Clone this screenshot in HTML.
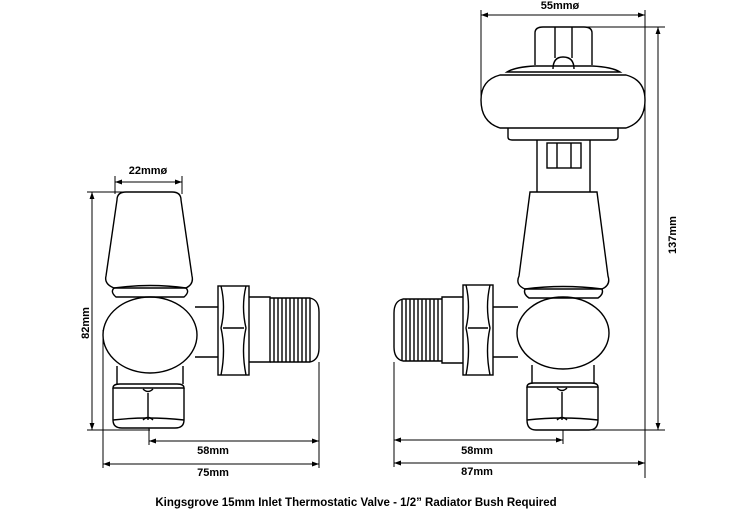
<!DOCTYPE html>
<html><head><meta charset="utf-8"><style>
html,body{margin:0;padding:0;background:#fff;}
svg{display:block;}
text{font-family:"Liberation Sans",Arial,sans-serif;font-weight:bold;fill:#000;}
</style></head><body>
<svg width="750" height="510" viewBox="0 0 750 510" xmlns="http://www.w3.org/2000/svg">
<defs>
<marker id="a" viewBox="0 0 10 10" refX="10" refY="5" markerWidth="9" markerHeight="7" orient="auto-start-reverse" markerUnits="userSpaceOnUse"><path d="M0,1.5 L10,5 L0,8.5 Z" fill="#000"/></marker>
</defs>
<g fill="none" stroke="#000" stroke-width="1.4">
<path d="M117,200 Q117,192 126,192 L172,192 Q181,192 181,200 L192,276 Q194,284 186,288 L114,288 Q104,284 106,276 Z"/>
<path d="M114,288 Q150,283 186,288 Q190,292 184,297 L116,297 Q110,292 114,288"/>
<ellipse cx="150" cy="335" rx="47" ry="38"/>
<path d="M117,366 L117,384 M183,366 L183,384"/>
<path d="M113,388 Q113,384 120,384 L177,384 Q184,384 184,388 Z"/>
<path d="M113,388 L113,420 Q113,428 122,428 L175,428 Q184,428 184,420 L184,388"/>
<path d="M113,420 Q148,416 184,420"/>
<path d="M148,393 L148,420 M143,389 Q148,394 153,389 M143,420 Q148,415 153,420"/>
<path d="M195,307 L218,307 M195,357 L218,357"/>
<rect x="218" y="286" width="31" height="89"/>
<path d="M221,286 Q226,307 221,328 Q226,350 221,375 M246,286 Q241,307 246,328 Q241,350 246,375 M223,328 L244,328"/>
<path d="M249,297 L270,297 L270,362 L249,362"/>
<path d="M270,298 L310,298 Q319,300 319,312 L319,348 Q319,360 310,362 L270,362"/>
<path d="M274,298 V362 M278,298 V362 M282,298 V362 M286,298 V362 M290,298 V362 M294,298 V362 M298,298 V362 M302,298 V362 M306,298 V362 M310,298 V362"/>

<path d="M535,65 L535,33 Q535,27 543,27 L584,27 Q592,27 592,33 L592,65"/>
<path d="M555,27 V58 M572,27 V58"/>
<path d="M553,69 Q553,57 563,57 Q574,57 574,69"/>
<path d="M507,72 Q515,67 535,66 L592,66 Q612,67 620,72 Z"/>
<path d="M500,75 L626,75 Q645,80 645,100 Q645,122 626,128 L500,128 Q481,122 481,100 Q481,80 500,75 Z"/>
<path d="M508,128 L508,137 Q508,140 512,140 L614,140 Q618,140 618,137 L618,128"/>
<path d="M537,140 L537,192 M590,140 L590,192"/>
<rect x="547" y="143" width="34" height="25"/>
<path d="M557,143 V168 M571,143 V168"/>
<path d="M530,192 L597,192 L608,276 Q611,285 602,289 L525,289 Q515,285 519,276 Z"/>
<path d="M525,289 Q563,284 602,289 Q604,294 598,298 L529,298 Q523,294 525,289"/>
<ellipse cx="563" cy="333" rx="46" ry="36"/>
<path d="M532,365 L532,383 M594,365 L594,383"/>
<path d="M527,387 Q527,383 534,383 L591,383 Q598,383 598,387 Z"/>
<path d="M527,387 L527,420 Q527,430 536,430 L589,430 Q598,430 598,420 L598,387"/>
<path d="M527,420 Q563,416 598,420"/>
<path d="M562,392 L562,420 M557,388 Q562,393 567,388 M557,420 Q562,415 567,420"/>
<path d="M493,307 L518,307 M493,357 L518,357"/>
<rect x="463" y="285" width="30" height="90"/>
<path d="M466,285 Q471,307 466,328 Q471,350 466,375 M490,285 Q485,307 490,328 Q485,350 490,375 M468,328 L488,328"/>
<path d="M463,297 L442,297 L442,363 L463,363"/>
<path d="M442,299 L403,299 Q394,301 394,313 L394,347 Q394,359 403,361 L442,361"/>
<path d="M438,299 V361 M434,299 V361 M430,299 V361 M426,299 V361 M422,299 V361 M418,299 V361 M414,299 V361 M410,299 V361 M406,299 V361 M402,299 V361"/>
</g>

<g fill="none" stroke="#000" stroke-width="1">
<path d="M115,176 V194 M182,176 V194"/>
<line x1="115" y1="182" x2="182" y2="182" marker-start="url(#a)" marker-end="url(#a)"/>
<path d="M87,192 H130 M87,430 H150"/>
<line x1="92" y1="192" x2="92" y2="430" marker-start="url(#a)" marker-end="url(#a)"/>
<path d="M103,330 V468 M319,362 V468 M149,428 V445"/>
<line x1="149" y1="441" x2="319" y2="441" marker-start="url(#a)" marker-end="url(#a)"/>
<line x1="103" y1="464" x2="319" y2="464" marker-start="url(#a)" marker-end="url(#a)"/>
<path d="M481,10 V100 M645,10 V478"/>
<line x1="481" y1="15" x2="645" y2="15" marker-start="url(#a)" marker-end="url(#a)"/>
<path d="M575,27 H665 M563,430 H665"/>
<line x1="658" y1="27" x2="658" y2="430" marker-start="url(#a)" marker-end="url(#a)"/>
<path d="M394,362 V467 M563,430 V444"/>
<line x1="394" y1="440" x2="563" y2="440" marker-start="url(#a)" marker-end="url(#a)"/>
<line x1="394" y1="463" x2="645" y2="463" marker-start="url(#a)" marker-end="url(#a)"/>
</g>

<g font-size="11">
<text x="148" y="174" text-anchor="middle">22mmø</text>
<text x="560" y="9" text-anchor="middle">55mmø</text>
<text x="213" y="454" text-anchor="middle">58mm</text>
<text x="213" y="476" text-anchor="middle">75mm</text>
<text x="477" y="454" text-anchor="middle">58mm</text>
<text x="477" y="475" text-anchor="middle">87mm</text>
<text transform="translate(89,323) rotate(-90)" text-anchor="middle">82mm</text>
<text transform="translate(676,235) rotate(-90)" text-anchor="middle">137mm</text>
<text x="356" y="506" text-anchor="middle" font-size="11.5">Kingsgrove 15mm Inlet Thermostatic Valve - 1/2” Radiator Bush Required</text>
</g>
</svg>
</body></html>
